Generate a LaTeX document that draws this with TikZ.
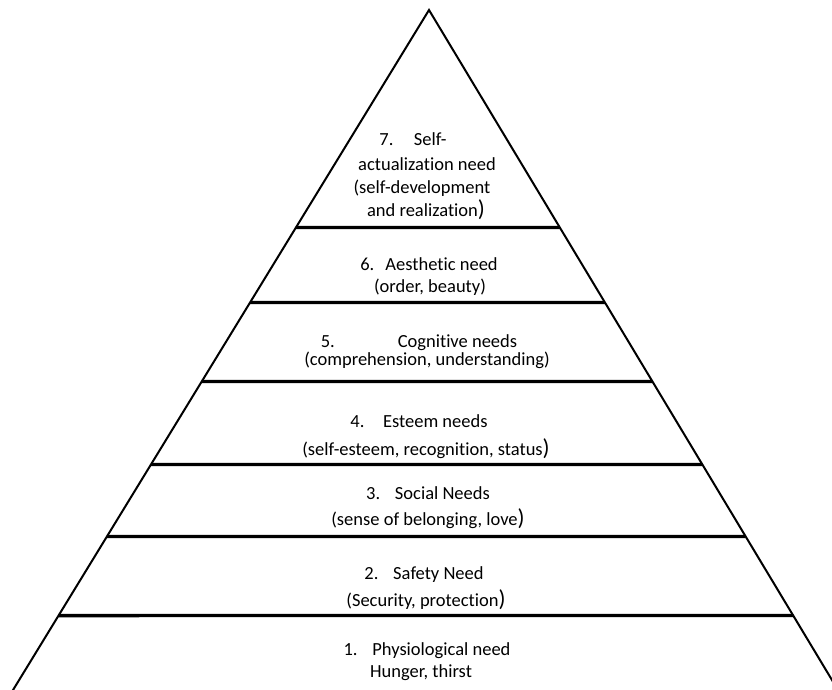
\documentclass[tikz,border=0pt]{standalone}
\usepackage{fontspec}
\setmainfont{Carlito}[Ligatures=NoCommon]
\newcommand{\bigclose}{{\fontsize{23}{23}\selectfont )}}
\begin{document}
\begin{tikzpicture}[x=1pt,y=-1pt,
  edge/.style={line width=2pt,line join=miter},
  tier/.style={line width=3.4pt},
  lbl/.style={anchor=base,inner sep=0pt,font=\fontsize{18.5}{22}\selectfont},
]
\useasboundingbox (0,0) rectangle (832,690);
% pyramid outline, base runs off the bottom of the page
\coordinate (apex) at (429,10);
\coordinate (bl) at (6.9,700);
\coordinate (br) at (844,700);
\begin{scope}
  \clip (0,0) rectangle (832,690);
  \draw[edge] (bl) -- (apex) -- (br);
\end{scope}
% tier separators, spanning edge to edge
\foreach \yy/\nm in {227.5/s7, 302.5/s6, 381.5/s5, 464.5/s4, 536.5/s3, 615.5/s2}{
  \coordinate (\nm l) at (intersection of apex--bl and 0,\yy--1,\yy);
  \coordinate (\nm r) at (intersection of apex--br and 0,\yy--1,\yy);
  \draw[tier] (\nm l) -- (\nm r);
}
% level 7
\node[lbl] (t7a) at (413,146) {7.\hspace{1.1em}Self-};
\node[lbl] (t7b) at (427,170) {actualization need};
\node[lbl] (t7c) at (422,193) {(self-development};
\node[lbl] (t7d) at (426,216) {and realization\bigclose};
% level 6
\node[lbl] (t6a) at (429,270) {6.\hspace{0.6em}Aesthetic need};
\node[lbl] (t6b) at (430,292) {(order, beauty)};
% level 5
\node[lbl] (t5a) at (419,347) {5.\hspace{3.4em}Cognitive needs};
\node[lbl] (t5b) at (427,365) {(comprehension, understanding)};
% level 4
\node[lbl] (t4a) at (419,427) {4.\hspace{1em}Esteem needs};
\node[lbl] (t4b) at (426,455) {(self-esteem, recognition, status\bigclose};
% level 3
\node[lbl] (t3a) at (428,499) {3.\hspace{0.8em}Social Needs};
\node[lbl] (t3b) at (428,525) {(sense of belonging, love\bigclose};
% level 2
\node[lbl] (t2a) at (424,579) {2.\hspace{0.8em}Safety Need};
\node[lbl] (t2b) at (426,606) {(Security, protection\bigclose};
% level 1
\node[lbl] (t1a) at (427,655) {1.\hspace{0.8em}Physiological need};
\node[lbl] (t1b) at (421,677) {Hunger, thirst};
\end{tikzpicture}
\end{document}
